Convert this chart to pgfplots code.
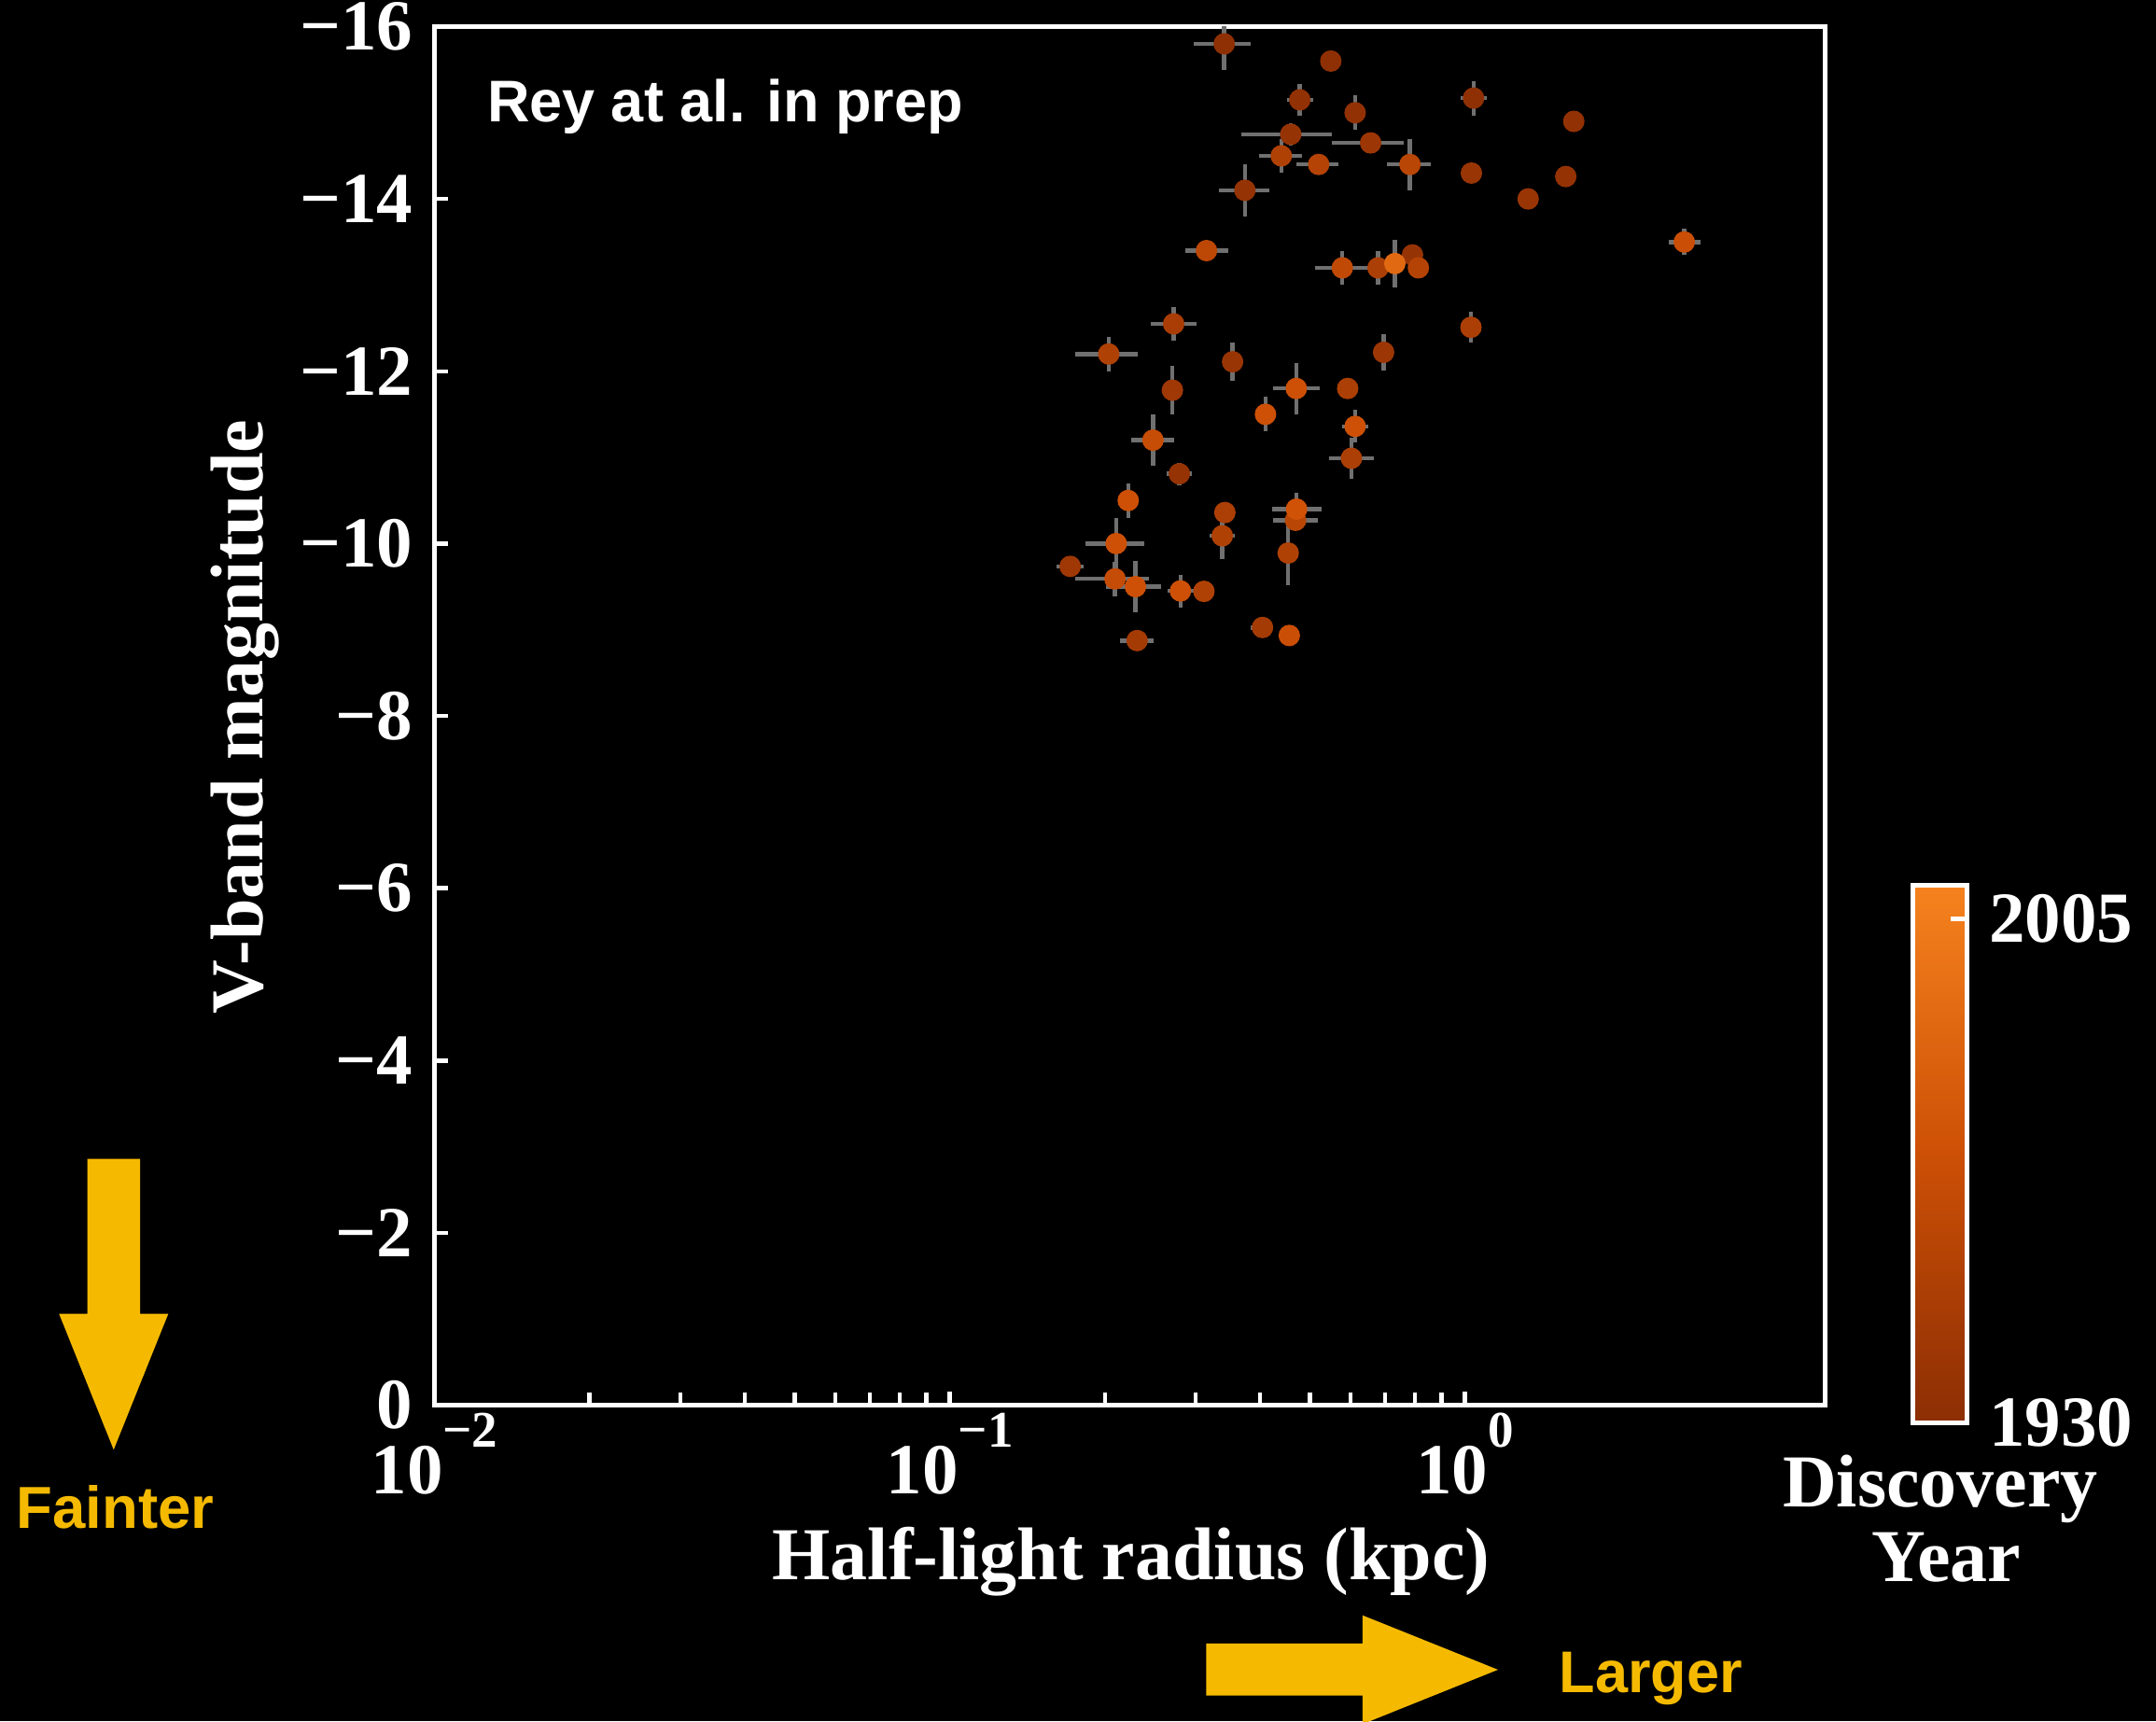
\documentclass[border=0pt]{standalone}
\usepackage{fontspec}
\setmainfont{Liberation Serif}
\newfontfamily\labelsans{Liberation Sans}
\usepackage{pgfplots}
\usepackage{pgfplotstable}
\pgfplotsset{compat=1.18}
\definecolor{gold}{RGB}{245,186,0}
\definecolor{errgray}{RGB}{112,112,112}
\pgfplotsset{colormap={discov}{rgb255=(140,46,4) rgb255=(205,80,6) rgb255=(245,130,30)}}

\pgfplotstableread{
x y xm xp ym yp yr
0.341 -15.80 0.044 0.043 0.30 0.30 1932
0.549 -15.60 0 0 0 0 1932
0.478 -15.15 0.027 0.029 0.18 0.18 1934
0.612 -15.00 0 0 0.20 0.20 1934
1.039 -15.17 0.059 0.063 0.20 0.20 1932
1.626 -14.90 0 0 0 0 1934
0.459 -14.75 0.091 0.092 0.13 0.13 1936
0.656 -14.65 0.104 0.105 0.12 0.12 1940
0.440 -14.50 0.041 0.043 0.20 0.20 1952
0.520 -14.40 0.049 0.049 0 0 1955
0.782 -14.40 0.077 0.075 0.30 0.30 1958
1.029 -14.30 0 0 0 0 1938
1.569 -14.26 0 0 0 0 1935
1.326 -14.00 0 0 0 0 1938
0.374 -14.10 0.041 0.043 0.30 0.30 1936
2.664 -13.50 0.182 0.196 0.15 0.15 1968
0.315 -13.40 0.029 0.032 0 0 1960
0.578 -13.20 0.067 0.077 0.20 0.20 1962
0.791 -13.35 0 0 0.12 0.12 1936
0.678 -13.20 0 0 0.20 0.20 1950
0.731 -13.25 0 0 0.28 0.28 1990
0.812 -13.20 0 0 0 0 1955
0.272 -12.55 0.026 0.029 0.20 0.20 1948
1.027 -12.51 0 0 0.18 0.18 1950
0.2035 -12.20 0.028 0.028 0.20 0.20 1952
0.354 -12.11 0 0 0.22 0.22 1938
0.695 -12.22 0 0 0.21 0.21 1940
0.2705 -11.78 0 0 0.28 0.28 1942
0.4705 -11.80 0.046 0.051 0.30 0.30 1970
0.592 -11.80 0 0 0 0 1950
0.410 -11.50 0 0 0.20 0.20 1970
0.612 -11.36 0.035 0.037 0.19 0.19 1970
0.602 -10.99 0.058 0.064 0.24 0.24 1950
0.248 -11.20 0.023 0.025 0.30 0.30 1966
0.279 -10.81 0.015 0.016 0.13 0.13 1936
0.222 -10.50 0 0 0.20 0.20 1970
0.342 -10.36 0 0 0 0 1950
0.469 -10.27 0.045 0.050 0 0 1958
0.471 -10.40 0.049 0.055 0.19 0.19 1972
0.338 -10.09 0.018 0.019 0.27 0.27 1952
0.2104 -10.00 0.027 0.028 0.30 0.30 1970
0.1713 -9.735 0.0098 0.0103 0 0 1942
0.2093 -9.59 0.034 0.034 0.20 0.20 1965
0.2293 -9.50 0.028 0.028 0.30 0.30 1970
0.2804 -9.45 0.016 0.018 0.19 0.19 1970
0.3114 -9.445 0 0 0 0 1952
0.4538 -9.89 0 0 0.37 0.37 1952
0.231 -8.874 0.017 0.018 0 0 1945
0.4046 -9.026 0.02 0.02 0 0 1945
0.456 -8.933 0 0 0 0 1968
}\sats

\begin{document}
\begin{tikzpicture}
\path[use as bounding box, fill=black] (0pt,0pt) rectangle (462pt,368.8pt);
\begin{axis}[
  at={(93.1pt,67.7pt)}, anchor=south west,
  scale only axis, width=298pt, height=295.4pt,
  xmode=log, xmin=0.01, xmax=5,
  ymin=-16, ymax=0, y dir=reverse,
  axis line style={white, line width=1pt},
  tick style={white, line width=0.9pt},
  tick align=inside, xtick pos=bottom, ytick pos=left,
  major tick length=3pt, minor tick length=2.7pt,
  xtick={0.01,0.1,1},
  xticklabels={{10\raisebox{10pt}{\fontsize{11}{11}\selectfont −2}},{10\raisebox{10pt}{\fontsize{11}{11}\selectfont −1}},{10\raisebox{10pt}{\fontsize{11}{11}\selectfont 0}}},
  ytick={-16,-14,-12,-10,-8,-6,-4,-2,0},
  yticklabels={−16,−14,−12,−10,−8,−6,−4,−2,0},
  tick label style={text=white, font=\fontsize{15.4}{16}\selectfont\bfseries, inner sep=0pt},
  xticklabel style={anchor=north, yshift=-1.5pt},
  yticklabel style={anchor=east, xshift=-4.5pt},
  colormap name=discov,
  point meta min=1930, point meta max=2010,
  colorbar,
  colorbar style={
    at={(parent axis.south east)}, anchor=south west, xshift=10.2pt, yshift=-3.8pt,
    scale only axis, width=11.6pt, height=115.2pt,
    ytick={1930,2005}, yticklabels={1930,2005},
    yticklabel pos=right, ytick pos=right,
    tick align=inside, major tick length=3.5pt,
    tick style={white, line width=0.9pt},
    axis line style={white, line width=1pt},
    yticklabel style={text=white, font=\fontsize{15.4}{16}\selectfont\bfseries, anchor=west, inner sep=0pt, xshift=4.6pt},
  },
]
\addplot[scatter, only marks, mark=*, mark size=2.1pt, point meta=explicit,
  scatter/use mapped color={draw=mapped color, fill=mapped color},
  error bars/.cd, x dir=both, x explicit, y dir=both, y explicit,
  error bar style={color=errgray, line width=0.9pt}, error mark=none]
  table[x=x, y=y, x error minus=xm, x error plus=xp, y error minus=ym, y error plus=yp, meta=yr] {\sats};
\end{axis}
\begin{scope}[x=0.2pt, y=-0.2pt, shift={(0pt,368.8pt)}]
  \node[anchor=base west, text=white, font=\labelsans\bfseries\fontsize{12.6}{14}\selectfont, inner sep=0pt] at (521,131) {Rey at al. in prep};
  \node[anchor=base, text=gold, font=\labelsans\bfseries\fontsize{12.7}{14}\selectfont, inner sep=0pt] at (123.3,1637.3) {Fainter};
  \node[anchor=base west, text=gold, font=\labelsans\bfseries\fontsize{12.6}{14}\selectfont, inner sep=0pt] at (1669.6,1813.3) {Larger};
  \fill[gold] (93.7,1241.7) -- (150,1241.7) -- (150,1407.7) -- (180.3,1407.7) -- (121.8,1553.3) -- (63.3,1407.7) -- (93.7,1407.7) -- cycle;
  \fill[gold] (1292.4,1761) -- (1459.8,1761) -- (1459.8,1730.7) -- (1605,1789) -- (1459.8,1847.3) -- (1459.8,1816.7) -- (1292.4,1816.7) -- cycle;
  \node[anchor=base, text=white, font=\bfseries\fontsize{16}{18}\selectfont, inner sep=0pt] at (1212,1693) {Half-light radius (kpc)};
  \node[anchor=base, rotate=90, text=white, font=\bfseries\fontsize{16}{18}\selectfont, inner sep=0pt] at (281.7,768) {V-band magnitude};
  \node[anchor=base, text=white, font=\bfseries\fontsize{16}{18}\selectfont, inner sep=0pt] at (2079,1614.3) {Discovery};
  \node[anchor=base, text=white, font=\bfseries\fontsize{16}{18}\selectfont, inner sep=0pt] at (2085,1694.3) {Year};
\end{scope}
\end{tikzpicture}
\end{document}
